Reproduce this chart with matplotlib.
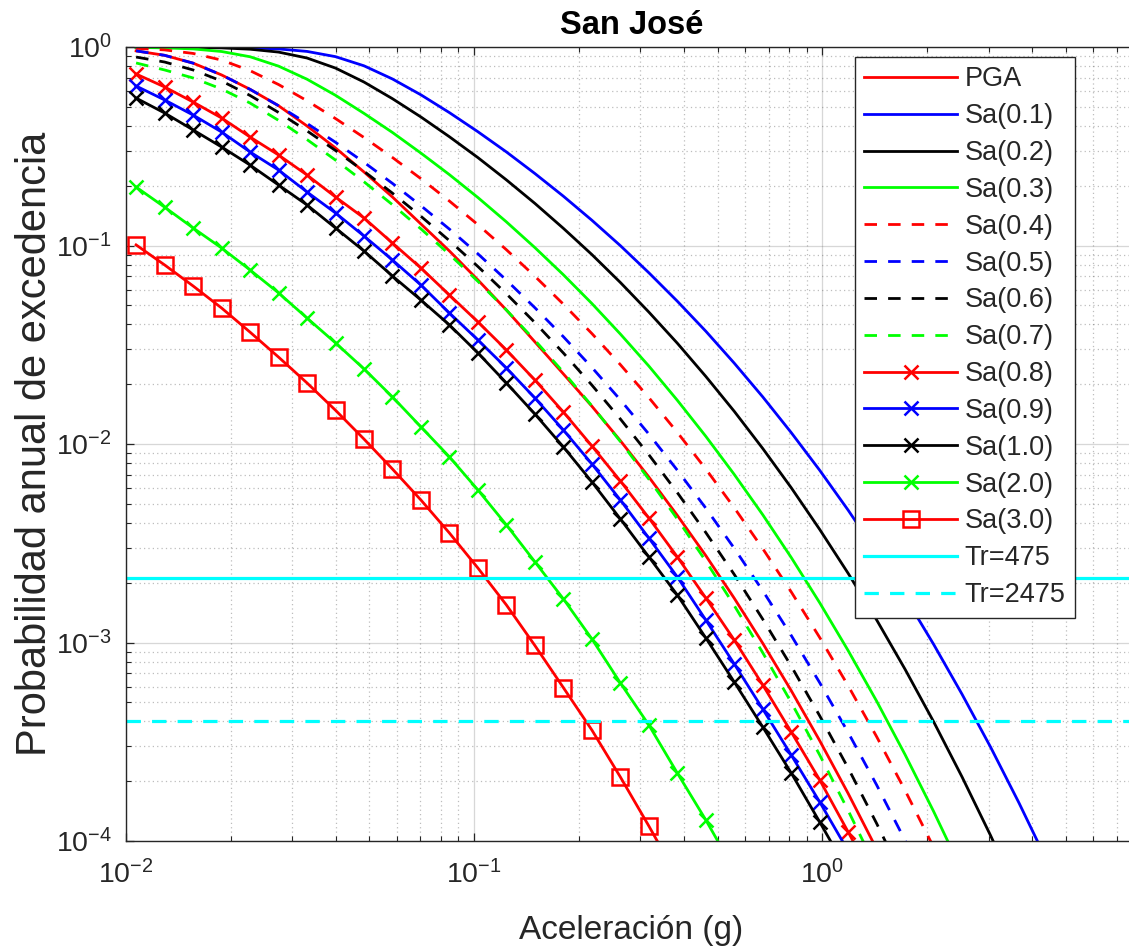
import numpy as np
import matplotlib
matplotlib.use('Agg')
import matplotlib.pyplot as plt
from matplotlib.ticker import LogLocator, NullFormatter

plt.rcParams['font.family'] = ['Liberation Sans', 'DejaVu Sans']
plt.rcParams['mathtext.fontset'] = 'custom'
plt.rcParams['mathtext.rm'] = 'Liberation Sans'
plt.rcParams['mathtext.it'] = 'Liberation Sans:italic'
plt.rcParams['mathtext.bf'] = 'Liberation Sans:bold'

# aceleracion (g) - grid shared by all the curves
accel = [0.01069, 0.01291, 0.01559, 0.01882, 0.02271, 0.02742, 0.03310, 0.03996,
         0.04824, 0.05823, 0.07030, 0.08487, 0.1025, 0.1237, 0.1493, 0.1803,
         0.2177, 0.2628, 0.3172, 0.3829, 0.4623, 0.5581, 0.6737, 0.8133,
         0.9818, 1.185, 1.431, 1.727, 2.085, 2.517, 3.039, 3.668, 4.428, 5.346]

# annual exceedance probability
pga = [0.956, 0.908, 0.829, 0.723, 0.612, 0.506, 0.400, 0.310, 0.2346, 0.1755,
       0.1283, 0.0938, 0.0670, 0.0473, 0.0327, 0.02253, 0.01549, 0.01039, 0.00682,
       0.00437, 0.00274, 0.001670, 0.000991, 0.000572, 0.000320, 0.0001735, 0.0000909]
sa01 = [0.9995, 0.9988, 0.9977, 0.9954, 0.9908, 0.978, 0.950, 0.894, 0.804, 0.690,
        0.574, 0.467, 0.374, 0.296, 0.2305, 0.1771, 0.1340, 0.0998, 0.0729, 0.0524,
        0.0370, 0.02553, 0.01727, 0.01141, 0.00737, 0.00464, 0.00284, 0.001696,
        0.000979, 0.000548, 0.000297, 0.0001553, 0.0000783]
sa02 = [0.9988, 0.9977, 0.9954, 0.9896, 0.9748, 0.9426, 0.880, 0.783, 0.666, 0.549,
        0.444, 0.353, 0.277, 0.214, 0.163, 0.122, 0.0900, 0.0651, 0.0462, 0.0322,
        0.0219, 0.01460, 0.00949, 0.00602, 0.00371, 0.00223, 0.001298, 0.000732,
        0.000399, 0.000210, 0.0001065, 0.0000519]
sa03 = [0.9954, 0.9896, 0.978, 0.949, 0.893, 0.801, 0.688, 0.571, 0.463, 0.371,
        0.292, 0.2274, 0.1743, 0.1315, 0.0976, 0.0712, 0.0510, 0.0358, 0.0247,
        0.01661, 0.01093, 0.00702, 0.00440, 0.00268, 0.001585, 0.000910, 0.000506,
        0.000272, 0.0001409, 0.0000704]
sa04 = [0.985, 0.967, 0.928, 0.859, 0.760, 0.647, 0.536, 0.436, 0.350, 0.2776,
        0.2170, 0.1674, 0.1272, 0.0952, 0.0700, 0.0506, 0.0360, 0.02510, 0.01713,
        0.01145, 0.00748, 0.00477, 0.00297, 0.001798, 0.001059, 0.000605, 0.000335,
        0.0001796, 0.0000930]
sa05 = [0.956, 0.908, 0.829, 0.723, 0.612, 0.506, 0.412, 0.331, 0.2625, 0.2055,
        0.1586, 0.1209, 0.0907, 0.0669, 0.0486, 0.0347, 0.0243, 0.01668, 0.01122,
        0.00738, 0.00475, 0.00298, 0.001822, 0.001085, 0.000627, 0.000352,
        0.0001913, 0.0001005, 0.0000510]
sa06 = [0.890, 0.840, 0.766, 0.674, 0.570, 0.468, 0.378, 0.301, 0.2365, 0.1835,
        0.1403, 0.1057, 0.0783, 0.0571, 0.0409, 0.02873, 0.01980, 0.01336, 0.00883,
        0.00569, 0.00358, 0.00220, 0.001310, 0.000760, 0.000427, 0.000233,
        0.0001224, 0.0000621]
sa07 = [0.831, 0.766, 0.698, 0.614, 0.522, 0.427, 0.3417, 0.2693, 0.2094, 0.1605,
        0.1212, 0.0902, 0.0659, 0.0473, 0.0333, 0.02300, 0.01556, 0.01029, 0.00665,
        0.00419, 0.00257, 0.001534, 0.000888, 0.000499, 0.000271, 0.0001424,
        0.0000721]
sa08 = [0.731, 0.629, 0.528, 0.4388, 0.352, 0.2857, 0.2265, 0.1755, 0.1376, 0.1029,
        0.0770, 0.0563, 0.0412, 0.02975, 0.02101, 0.01449, 0.00977, 0.00651, 0.00424,
        0.00270, 0.001676, 0.001029, 0.000611, 0.000354, 0.000203, 0.0001110,
        0.0000600]
sa09 = [0.636, 0.541, 0.454, 0.373, 0.296, 0.240, 0.186, 0.1458, 0.1116, 0.0845,
        0.0632, 0.0457, 0.0334, 0.02415, 0.01705, 0.01176, 0.00793, 0.00522, 0.00336,
        0.00214, 0.001298, 0.000779, 0.000462, 0.000271, 0.0001572, 0.0000890]
sa10 = [0.553, 0.465, 0.382, 0.3135, 0.2543, 0.2017, 0.1600, 0.1225, 0.0938, 0.0702,
        0.0531, 0.0398, 0.02873, 0.02029, 0.01416, 0.00966, 0.00644, 0.00419, 0.00270,
        0.001735, 0.001054, 0.000632, 0.000375, 0.000220, 0.0001246, 0.0000698]
sa20 = [0.197, 0.156, 0.1225, 0.0971, 0.0753, 0.0577, 0.0431, 0.0323, 0.0239,
        0.01726, 0.01219, 0.00861, 0.00586, 0.00391, 0.00255, 0.001657, 0.001042,
        0.000625, 0.000384, 0.000220, 0.0001276, 0.0000714]
sa30 = [0.1007, 0.0798, 0.0625, 0.0484, 0.0366, 0.0274, 0.0203, 0.01479, 0.01059,
        0.00748, 0.00522, 0.00356, 0.00237, 0.001545, 0.000966, 0.000592, 0.000362,
        0.000210, 0.000119, 0.000066]

tr_years = [475, 2475]

curves = [
    ('PGA', pga, 'r', '-', None),
    ('Sa(0.1)', sa01, 'b', '-', None),
    ('Sa(0.2)', sa02, 'k', '-', None),
    ('Sa(0.3)', sa03, 'g', '-', None),
    ('Sa(0.4)', sa04, 'r', '--', None),
    ('Sa(0.5)', sa05, 'b', '--', None),
    ('Sa(0.6)', sa06, 'k', '--', None),
    ('Sa(0.7)', sa07, 'g', '--', None),
    ('Sa(0.8)', sa08, 'r', '-', 'x'),
    ('Sa(0.9)', sa09, 'b', '-', 'x'),
    ('Sa(1.0)', sa10, 'k', '-', 'x'),
    ('Sa(2.0)', sa20, 'g', '-', 'x'),
    ('Sa(3.0)', sa30, 'r', '-', 's'),
]
colors = {'r': (1, 0, 0), 'b': (0, 0, 1), 'k': (0, 0, 0), 'g': (0, 1, 0)}
axcol = (0.15, 0.15, 0.15)

fig = plt.figure(figsize=(11.29, 9.49), dpi=100)
ax = fig.add_axes([126 / 1129, 1 - 841 / 949, (1137 - 126) / 1129, (841 - 47) / 949])

for name, vals, c, ls, mk in curves:
    kw = dict(color=colors[c], lw=2.0, label=name)
    if ls == '--':
        kw['dashes'] = (4.5, 4.0)
    if mk == 'x':
        kw.update(marker='x', ms=10, mew=1.8)
    elif mk == 's':
        kw.update(marker='s', ms=11, mew=1.8, mfc='none')
    ax.plot(accel[:len(vals)], vals, **kw)

ax.axhline(1 / tr_years[0], color=(0, 1, 1), lw=2.3, label='Tr=475')
ax.axhline(1 / tr_years[1], color=(0, 1, 1), lw=2.3, dashes=(4.5, 3.5), label='Tr=2475')

ax.set_xscale('log')
ax.set_yscale('log')
ax.set_xlim(0.01, 8)
ax.set_ylim(1e-4, 1)

ax.xaxis.set_minor_locator(LogLocator(base=10, subs=np.arange(2, 10), numticks=100))
ax.yaxis.set_minor_locator(LogLocator(base=10, subs=np.arange(2, 10), numticks=100))
ax.xaxis.set_minor_formatter(NullFormatter())
ax.yaxis.set_minor_formatter(NullFormatter())
ax.yaxis.set_major_locator(LogLocator(base=10, numticks=20))

ax.grid(True, which='major', color=axcol, alpha=0.18, lw=0.9)
ax.grid(True, which='minor', color=axcol, alpha=0.3, lw=0.9, ls=(0, (1, 2.5)))
ax.tick_params(which='both', direction='in', top=True, right=True, colors=axcol,
               labelsize=20.5)
ax.tick_params(which='major', length=6, width=0.9, pad=10)
ax.tick_params(axis='x', which='major', pad=14)
ax.tick_params(which='minor', length=3.5, width=0.8)
for s in ax.spines.values():
    s.set_color(axcol)
    s.set_linewidth(1.0)

ax.set_title('San José', fontsize=23.5, fontweight='bold', pad=9)
ax.set_xlabel('Aceleración (g)', fontsize=24, color=axcol, labelpad=18)
ax.set_ylabel('Probabilidad anual de excedencia', fontsize=30, color=axcol, labelpad=1)

leg = ax.legend(loc='upper left', bbox_to_anchor=(855 / 1129, 1 - 57 / 949),
                bbox_transform=fig.transFigure, fontsize=19.5, frameon=True,
                fancybox=False, edgecolor=axcol, framealpha=1, borderaxespad=0,
                handlelength=3.4, handletextpad=0.3, labelspacing=0.4,
                borderpad=0.35, numpoints=1)
leg.get_frame().set_linewidth(1.0)
for t in leg.get_texts():
    t.set_color(axcol)

fig.savefig('out.png', dpi=100)
